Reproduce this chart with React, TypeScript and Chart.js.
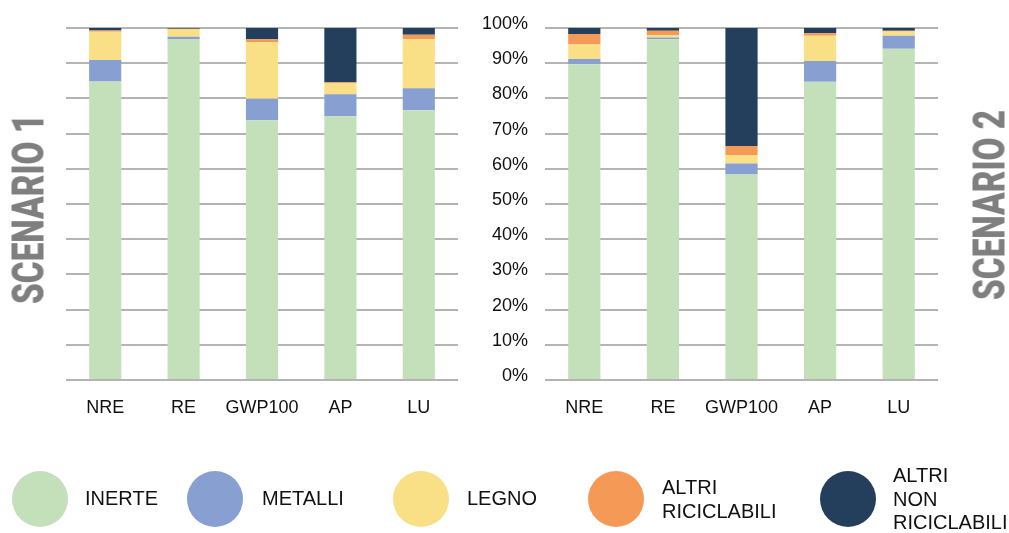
import React, { useEffect, useRef } from "react";
import { Chart, registerables } from "chart.js";
Chart.register(...registerables);

const categories = ["NRE", "RE", "GWP100", "AP", "LU"];
const seriesNames = ["INERTE", "METALLI", "LEGNO", "ALTRI RICICLABILI", "ALTRI NON RICICLABILI"];
const legendLines = [["INERTE"], ["METALLI"], ["LEGNO"], ["ALTRI", "RICICLABILI"], ["ALTRI", "NON", "RICICLABILI"]];
const seriesColors = ["#c4e0ba", "#879fd1", "#f9df85", "#f59a56", "#243f5c"];

// Scenario 1 (%)
const s1Inerte = [84.8, 96.9, 73.8, 74.9, 76.6];
const s1Metalli = [6.1, 0.6, 6.1, 6.3, 6.3];
const s1Legno = [8.0, 2.2, 16.1, 3.0, 13.9];
const s1AltriRic = [0.4, 0.1, 0.8, 0.4, 1.3];
const s1AltriNonRic = [0.7, 0.2, 3.2, 15.4, 1.9];

// Scenario 2 (%)
const s2Inerte = [89.7, 96.8, 58.4, 84.7, 94.1];
const s2Metalli = [1.5, 0.5, 3.1, 5.9, 3.7];
const s2Legno = [4.1, 0.7, 2.4, 7.2, 1.2];
const s2AltriRic = [3.0, 1.2, 2.6, 0.7, 0.2];
const s2AltriNonRic = [1.7, 0.8, 33.5, 1.5, 0.8];

const yMin = 0;
const yMax = 100;
const yStep = 10;

const W = 1009;
const H = 533;
const FONT = "'Liberation Sans', Arial, sans-serif";

function makeChart(
  canvas: HTMLCanvasElement,
  series: number[][],
  showY: boolean,
  areaLeft: number,
  areaRight: number
) {
  const xHeight = 40;
  const areaTop = 28;
  const areaBottom = 380;
  return new Chart(canvas, {
    type: "bar",
    data: {
      labels: categories,
      datasets: series.map((d, i) => ({
        label: seriesNames[i],
        data: d,
        backgroundColor: seriesColors[i],
        borderWidth: 0,
        categoryPercentage: 1,
        barPercentage: 0.41,
      })),
    },
    options: {
      responsive: false,
      animation: false,
      devicePixelRatio: 1,
      layout: {
        padding: {
          top: areaTop,
          left: 0,
          right: W - areaRight,
          bottom: H - areaBottom - xHeight,
        },
      },
      plugins: {
        legend: { display: false },
        tooltip: { enabled: false },
        title: { display: false },
      },
      scales: {
        x: {
          stacked: true,
          grid: { display: false, drawTicks: false },
          border: { display: false },
          ticks: {
            padding: 17,
            color: "#111111",
            font: { family: FONT, size: 18 },
            maxRotation: 0,
            autoSkip: false,
          },
          afterFit: (s: any) => {
            s.height = xHeight;
          },
        },
        y: {
          stacked: true,
          min: yMin,
          max: yMax,
          grid: { color: "#b4b4b4", lineWidth: 2, drawTicks: false },
          border: { display: false },
          ticks: {
            display: showY,
            stepSize: yStep,
            padding: 17,
            labelOffset: -4,
            color: "#111111",
            font: { family: FONT, size: 18 },
            callback: (v: any) => v + "%",
          },
          afterFit: (s: any) => {
            s.width = areaLeft;
          },
        },
      },
    },
  });
}

export default function App() {
  const c1 = useRef<HTMLCanvasElement>(null);
  const c2 = useRef<HTMLCanvasElement>(null);

  useEffect(() => {
    const ch1 = makeChart(
      c1.current!,
      [s1Inerte, s1Metalli, s1Legno, s1AltriRic, s1AltriNonRic],
      false,
      66,
      458
    );
    const ch2 = makeChart(
      c2.current!,
      [s2Inerte, s2Metalli, s2Legno, s2AltriRic, s2AltriNonRic],
      true,
      545,
      938
    );
    return () => {
      ch1.destroy();
      ch2.destroy();
    };
  }, []);

  const canvasStyle: React.CSSProperties = { position: "absolute", left: 0, top: 0 };
  const legendCenters = [39.5, 215, 420.7, 616, 847.5];
  const legendTextLeft = [85, 262, 467, 662, 893];

  const vertStyle = (cx: number, cy: number): React.CSSProperties => ({
    position: "absolute",
    left: cx,
    top: cy,
    transform: "translate(-50%, -50%) rotate(-90deg) scaleX(0.74)",
    fontFamily: "Roboto, 'Liberation Sans', Arial, sans-serif",
    fontWeight: 900,
    fontSize: 45,
    lineHeight: "45px",
    color: "#7f7f7f",
    whiteSpace: "nowrap",
  });

  return (
    <div
      style={{
        position: "absolute",
        left: 0,
        top: 0,
        width: W,
        height: H,
        background: "#ffffff",
        overflow: "hidden",
      }}
    >
      <canvas ref={c1} width={W} height={H} style={canvasStyle} />
      <canvas ref={c2} width={W} height={H} style={canvasStyle} />
      <div style={vertStyle(28, 209)}>SCENARIO 1</div>
      <div style={vertStyle(989, 205)}>SCENARIO 2</div>
      {seriesNames.map((name, i) => (
        <React.Fragment key={name}>
          <div
            style={{
              position: "absolute",
              left: legendCenters[i] - 28,
              top: 499 - 28,
              width: 56,
              height: 56,
              borderRadius: "50%",
              background: seriesColors[i],
            }}
          />
          <div
            style={{
              position: "absolute",
              left: legendTextLeft[i],
              top: 499,
              transform: "translateY(-50%)",
              fontFamily: FONT,
              fontSize: 20,
              lineHeight: "23.5px",
              color: "#111111",
              whiteSpace: "nowrap",
            }}
          >
            {legendLines[i].map((l, j) => (
              <div key={j}>{l}</div>
            ))}
          </div>
        </React.Fragment>
      ))}
    </div>
  );
}
